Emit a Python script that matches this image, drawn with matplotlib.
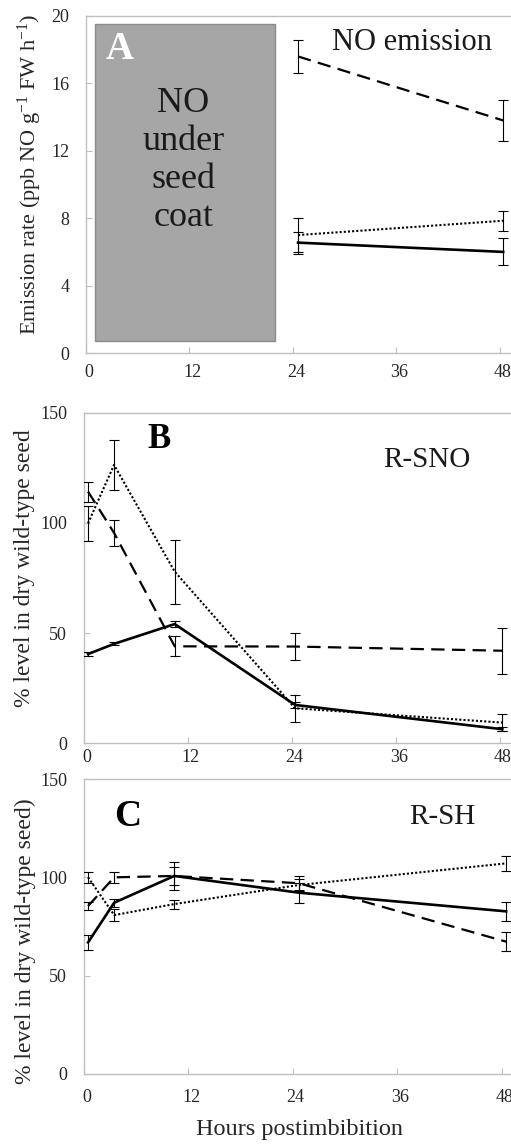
import numpy as np
import matplotlib
matplotlib.use("Agg")
import matplotlib.pyplot as plt
from matplotlib.patches import Rectangle
import matplotlib.transforms as mtransforms

# ---------------------------------------------------------
# Fonts / style
# ---------------------------------------------------------
plt.rcParams["font.family"] = ["Liberation Serif", "DejaVu Serif"]
plt.rcParams["mathtext.fontset"] = "custom"
plt.rcParams["mathtext.rm"] = "Liberation Serif"
plt.rcParams["mathtext.it"] = "Liberation Serif:italic"

TXT = "#262626"
SPINE = "#bfbfbf"

# ---------------------------------------------------------
# Data
# ---------------------------------------------------------
# Panel A - NO emission
hours_a = [24.6, 48.4]
a_solid = [6.55, 6.0]
a_solid_err = [0.65, 0.8]
a_dashed = [17.6, 13.8]
a_dashed_err = [1.0, 1.2]
a_dotted = [7.0, 7.85]
a_dotted_err = [1.0, 0.6]

# Panel B - R-SNO
hours_b = [0.5, 3.5, 10.5, 24.4, 48.3]
b_solid = [40.5, 45.1, 54.1, 17.4, 6.4]
b_solid_err = [1.0, 0.7, 1.2, 1.5, 1.0]
b_dashed = [114.2, 95.5, 44.0, 43.9, 42.0]
b_dashed_err = [4.5, 5.8, 4.5, 6.2, 10.5]
b_dotted = [99.8, 126.3, 77.9, 15.9, 9.4]
b_dotted_err = [8.0, 11.3, 14.5, 6.2, 3.8]

# Panel C - R-SH
hours_c = [0.5, 3.5, 10.4, 24.7, 48.5]
c_solid = [66.9, 87.1, 100.7, 92.2, 82.7]
c_solid_err = [4.0, 2.0, 7.0, 5.0, 4.8]
c_dashed = [85.4, 100.0, 100.7, 97.0, 67.3]
c_dashed_err = [2.0, 2.7, 4.5, 3.5, 5.0]
c_dotted = [100.0, 80.8, 86.4, 96.1, 107.1]
c_dotted_err = [2.8, 3.0, 2.3, 3.0, 3.8]

x_ticks = [0, 12, 24, 36, 48]

# seed coat box in panel A (hours, emission units)
coat_x = (1.0, 21.9)
coat_y = (0.7, 19.5)

# ---------------------------------------------------------
# Figure layout (pixel based)
# ---------------------------------------------------------
W, H = 511, 1144
fig = plt.figure(figsize=(W / 100, H / 100), dpi=100)


def px_axes(left, top, right, bottom):
    return fig.add_axes([left / W, 1 - bottom / H, (right - left) / W, (bottom - top) / H])


ax_a = px_axes(86, 16, 517, 353)
ax_b = px_axes(83.7, 412.7, 517, 743.3)
ax_c = px_axes(83.7, 779, 519.2, 1074)


def style_axes(ax, ylim, yticks, xpad):
    ax.set_xlim(0, 50)
    ax.set_ylim(*ylim)
    ax.set_xticks(x_ticks)
    ax.set_yticks(yticks)
    for s in ax.spines.values():
        s.set_color(SPINE)
        s.set_linewidth(1.0)
    ax.tick_params(direction="in", length=4, width=0.8, color=SPINE,
                   labelsize=13, labelcolor=TXT)
    ax.tick_params(axis="x", pad=xpad)
    ax.tick_params(axis="y", pad=12)
    # excel-like label offset to the right
    off = mtransforms.ScaledTranslation(3 / 100, 0, fig.dpi_scale_trans)
    for lab in ax.get_xticklabels():
        lab.set_transform(lab.get_transform() + off)


def draw_series(ax, x, solid, solid_err, dashed, dashed_err, dotted, dotted_err):
    for y, e in [(solid, solid_err), (dashed, dashed_err), (dotted, dotted_err)]:
        ax.errorbar(x, y, yerr=e, fmt="none", ecolor="black", elinewidth=0.8,
                    capsize=3.5, capthick=0.8, zorder=3)
    ax.plot(x, solid, color="black", lw=1.9, zorder=4)
    ln, = ax.plot(x, dashed, color="black", lw=1.6, zorder=4)
    ln.set_dashes((6, 3.3))
    ln, = ax.plot(x, dotted, color="black", lw=1.5, zorder=4)
    ln.set_dashes((1, 1))


# ---------------------------------------------------------
# Panel A
# ---------------------------------------------------------
style_axes(ax_a, (0, 20), [0, 4, 8, 12, 16, 20], 8)
ax_a.add_patch(Rectangle((coat_x[0], coat_y[0]), coat_x[1] - coat_x[0], coat_y[1] - coat_y[0],
                         facecolor="#a6a6a6", edgecolor="#8c8c8c", lw=1.0, zorder=1))
draw_series(ax_a, hours_a, a_solid, a_solid_err, a_dashed, a_dashed_err, a_dotted, a_dotted_err)
ax_a.text(3.9, 18.0, "A", color="white", fontsize=28, fontweight="bold", ha="center", va="center")
ax_a.text(11.3, 11.4, "NO\nunder\nseed\ncoat", color="#1a1a1a", fontsize=26,
          ha="center", va="center", linespacing=1.2)
ax_a.text(37.8, 18.45, "NO emission", color="#1a1a1a", fontsize=22, ha="center", va="center")

# ---------------------------------------------------------
# Panel B
# ---------------------------------------------------------
style_axes(ax_b, (0, 150), [0, 50, 100, 150], 4)
draw_series(ax_b, hours_b, b_solid, b_solid_err, b_dashed, b_dashed_err, b_dotted, b_dotted_err)
ax_b.text(8.7, 138, "B", color="black", fontsize=25, fontweight="bold", ha="center", va="center")
ax_b.text(39.6, 128.5, "R-SNO", color="#1a1a1a", fontsize=21, ha="center", va="center")

# ---------------------------------------------------------
# Panel C
# ---------------------------------------------------------
style_axes(ax_c, (0, 150), [0, 50, 100, 150], 11)
draw_series(ax_c, hours_c, c_solid, c_solid_err, c_dashed, c_dashed_err, c_dotted, c_dotted_err)
ax_c.text(5.1, 130.7, "C", color="black", fontsize=27, fontweight="bold", ha="center", va="center")
ax_c.text(41.2, 130.7, "R-SH", color="#1a1a1a", fontsize=21, ha="center", va="center")

# ---------------------------------------------------------
# Axis titles
# ---------------------------------------------------------
fig.text(30 / W, 1 - 174.5 / H, "Emission rate (ppb NO g$^{-1}$ FW h$^{-1}$)",
         rotation=90, ha="center", va="center", fontsize=16, color=TXT)
fig.text(25 / W, 1 - 568.5 / H, "% level in dry wild-type seed",
         rotation=90, ha="center", va="center", fontsize=17, color=TXT)
fig.text(25 / W, 1 - 941 / H, "% level in dry wild-type seed)",
         rotation=90, ha="center", va="center", fontsize=17, color=TXT)
fig.text(300 / W, 1 - 1130 / H, "Hours postimbibition",
         ha="center", va="center", fontsize=17.5, color=TXT)

fig.savefig("out.png", dpi=100)
